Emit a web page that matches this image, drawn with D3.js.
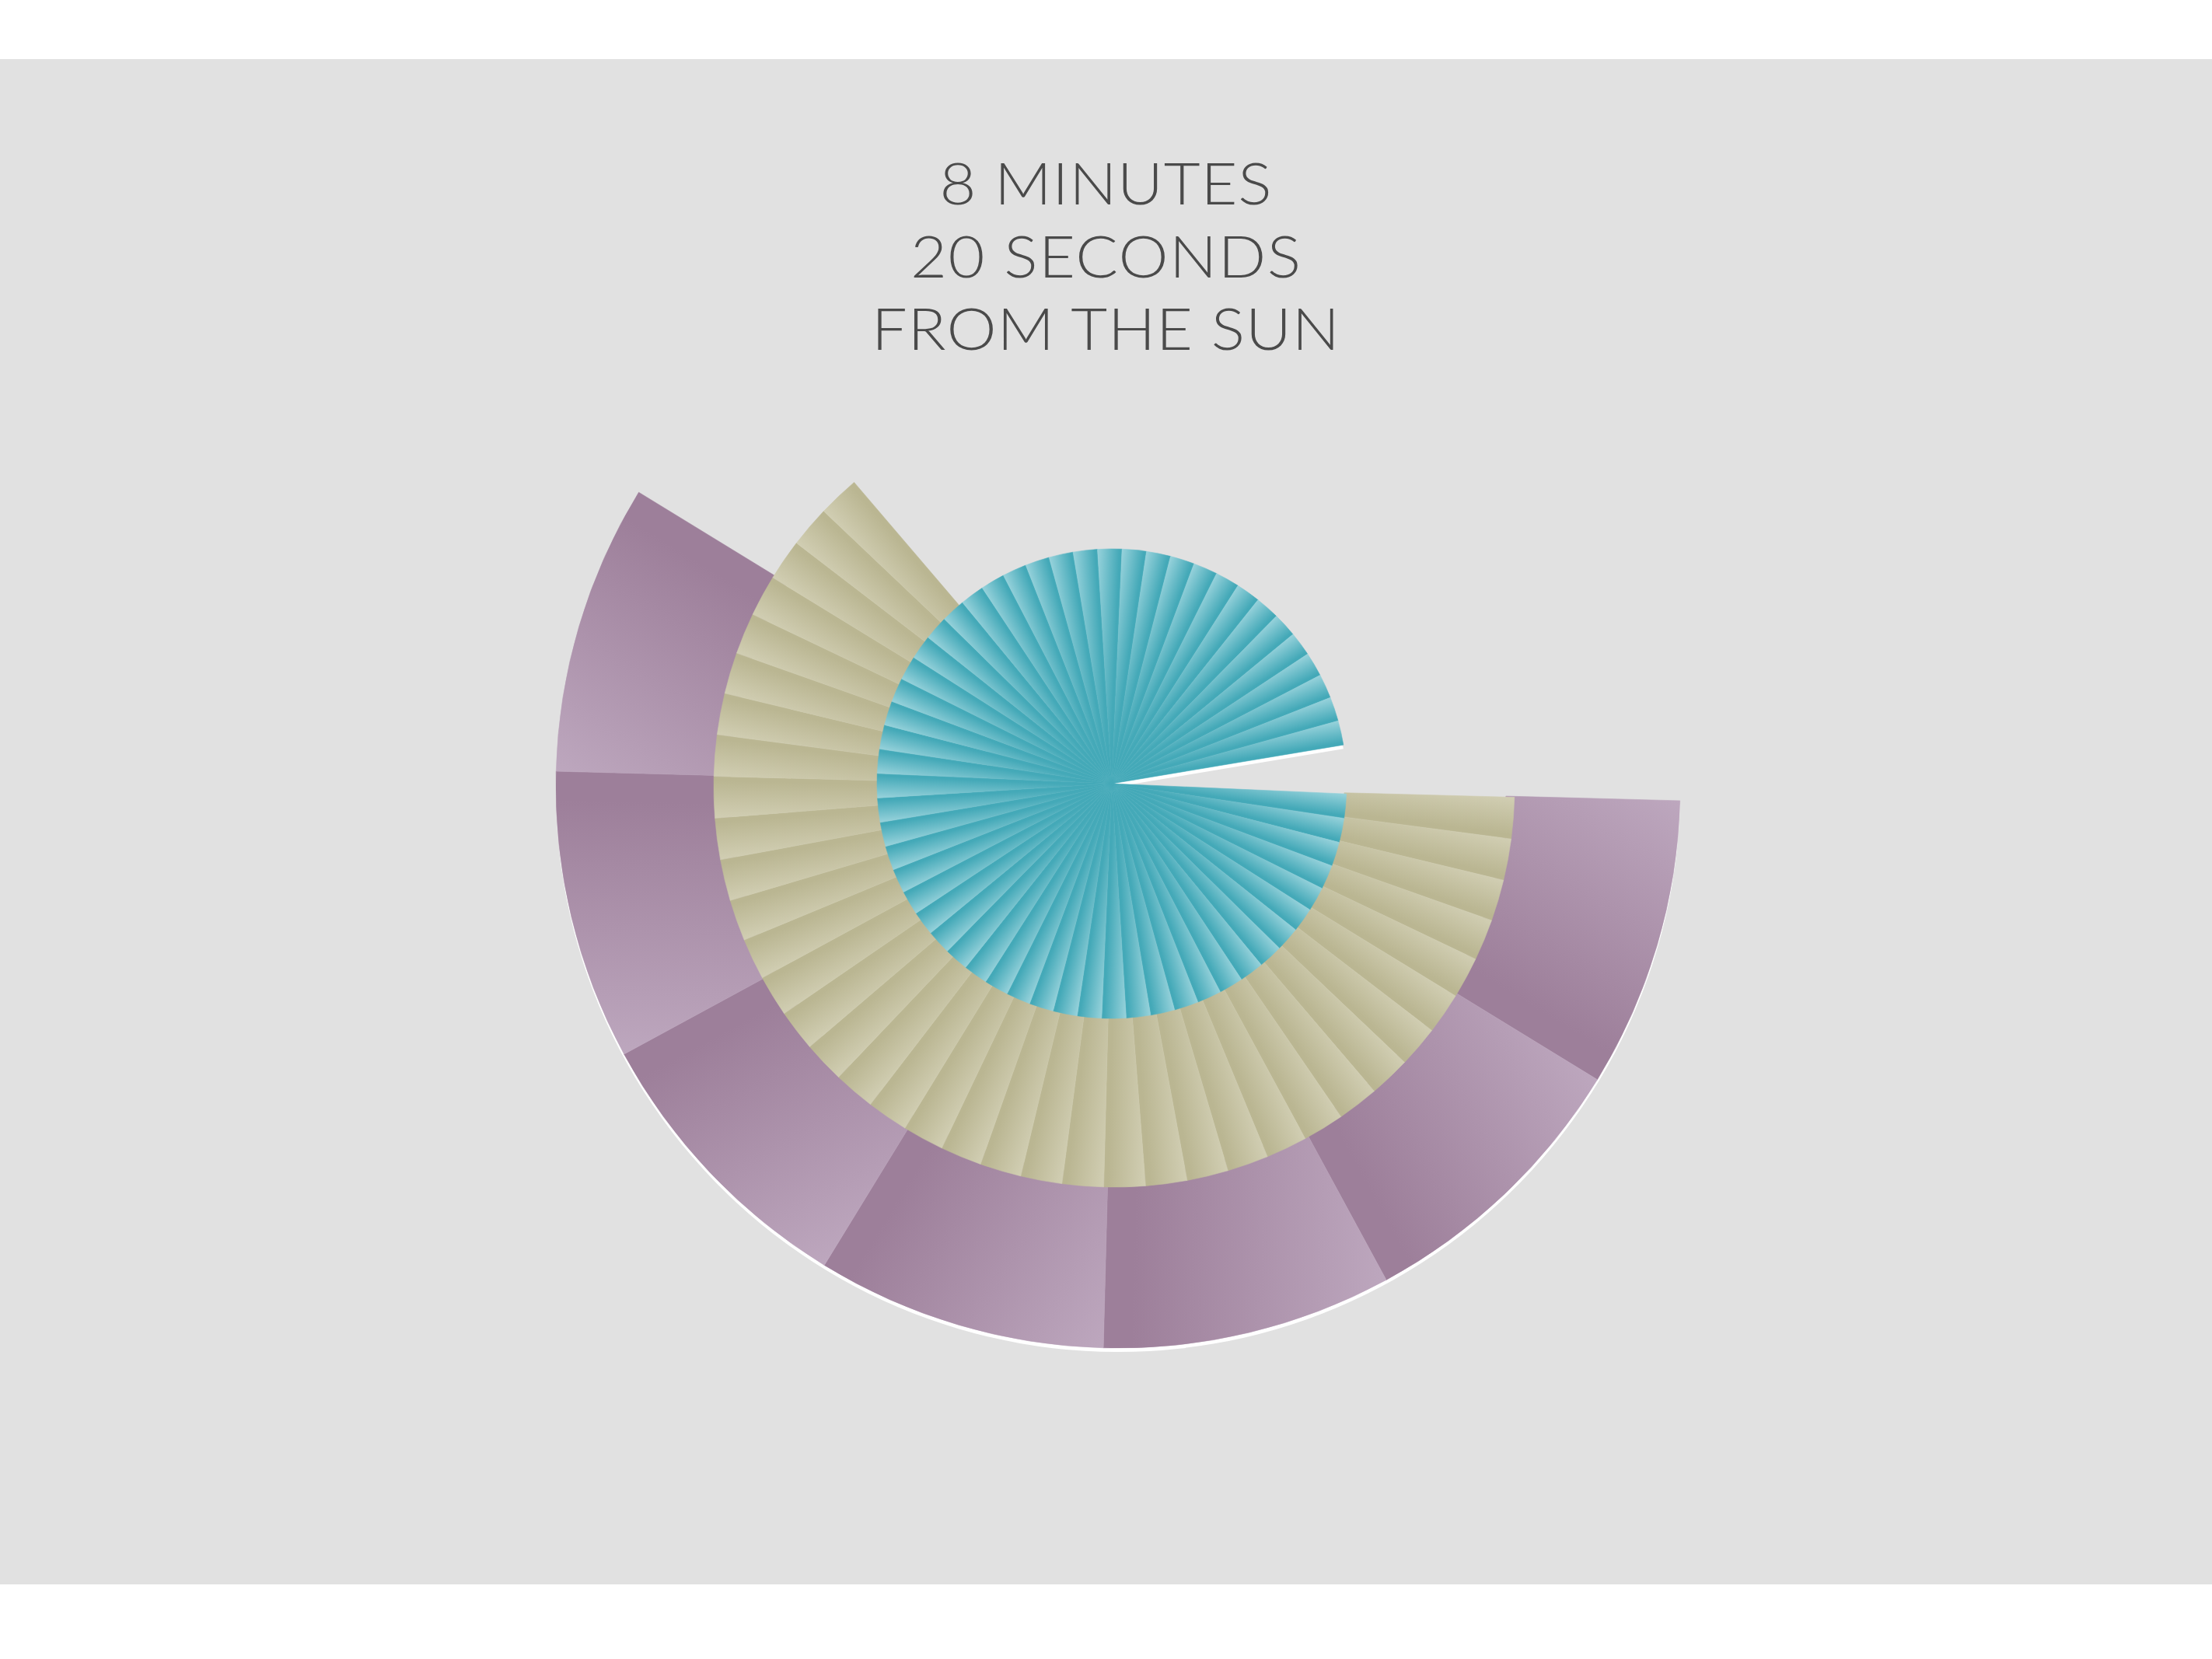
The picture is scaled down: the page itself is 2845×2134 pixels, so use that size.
<!DOCTYPE html>
<html><head><meta charset="utf-8">
<script src="https://cdn.jsdelivr.net/npm/d3@7"></script>
<style>html,body{margin:0;padding:0;background:#fff;} svg{display:block;}</style>
</head><body>
<svg id="chart" width="2845" height="2134"></svg>
<script>
// ---- data ----
const titleLines = ["8 MINUTES", "20 SECONDS", "FROM THE SUN"];
const ringNames = ["inner", "middle", "outer"];
const wedgeCounts = [58, 38, 7];          // number of wedges per ring
const wedgeSpans = [6, 6, 30];            // degrees per wedge
const ringStarts = [2.5, 1.5, 1.5];       // start angle (deg, clockwise from 3 o'clock)
const ringLevels = [[0, 1], [1, 2], [2, 3]];

// ---- layout / style ----
const W = 2845, H = 2134;
const ringCenters = [[1430, 1008], [1433, 1012], [1438, 1011]];
const innerInset = [0, 6, 16];            // inner edge tucked under the ring inside
const palette = [["#97d2db", "#44a9b8"], ["#d1ceb3", "#bab692"], ["#bda7be", "#9d7f9a"]];
const titleWidths = [427, 502, 602];
const titleBaselines = [263, 357, 450];
const stretch = 1.08;

const svg = d3.select("#chart");
svg.append("rect").attr("x", 0).attr("y", 76).attr("width", W).attr("height", 1962).attr("fill", "#e1e1e1");

svg.append("g").attr("transform", `translate(1422,0) scale(${stretch},1)`)
  .selectAll("text.title").data(titleLines).join("text")
  .attr("class", "title")
  .attr("x", 0).attr("y", (d, i) => titleBaselines[i])
  .attr("text-anchor", "middle")
  .attr("font-family", "Lato, 'Open Sans', sans-serif")
  .attr("font-weight", 300)
  .attr("font-size", 75)
  .attr("fill", "#4a4a4a")
  .attr("textLength", (d, i) => titleWidths[i] / stretch)
  .attr("lengthAdjust", "spacing")
  .text(d => d);

const rScale = d3.scaleLinear().domain([0, 1, 2, 3]).range([0, 302, 515, 723]);
const aScale = d3.scaleLinear().domain([0, 360]).range([Math.PI / 2, Math.PI / 2 + 2 * Math.PI]);
const rad = d => d * Math.PI / 180;

const defs = svg.append("defs");
const arc = d3.arc();

// wedge data
const wedges = [];
ringNames.forEach((name, i) => {
  for (let k = 0; k < wedgeCounts[i]; k++) {
    const a0 = ringStarts[i] + k * wedgeSpans[i];
    wedges.push({ ring: i, k, a0, a1: a0 + wedgeSpans[i] });
  }
});

const inner = i => Math.max(0, rScale(ringLevels[i][0]) - innerInset[i]);
const outer = i => rScale(ringLevels[i][1]);

// white offset shadows (behind everything)
const ringIdx = [2, 1, 0];
ringIdx.forEach(i => {
  svg.append("path")
    .attr("transform", `translate(${ringCenters[i][0]},${ringCenters[i][1] + 5})`)
    .attr("d", arc({
      innerRadius: inner(i), outerRadius: outer(i),
      startAngle: aScale(ringStarts[i]), endAngle: aScale(ringStarts[i] + wedgeCounts[i] * wedgeSpans[i])
    }))
    .attr("fill", "#ffffff");
});

// gradients
wedges.forEach(w => {
  const R = outer(w.ring);
  const ts = rad(w.a0), te = rad(w.a1);
  const px = R * Math.cos(ts), py = R * Math.sin(ts);
  const ux = Math.cos(te), uy = Math.sin(te);
  const dot = px * ux + py * uy;
  const qx = dot * ux, qy = dot * uy;
  const lg = defs.append("linearGradient")
    .attr("id", `gr-${w.ring}-${w.k}`)
    .attr("gradientUnits", "userSpaceOnUse")
    .attr("x1", px).attr("y1", py).attr("x2", qx).attr("y2", qy);
  lg.append("stop").attr("offset", 0).attr("stop-color", palette[w.ring][0]);
  lg.append("stop").attr("offset", 0.9).attr("stop-color", palette[w.ring][1]);
  lg.append("stop").attr("offset", 1).attr("stop-color", palette[w.ring][1]);
});

// wedges: outer rings first
ringIdx.forEach(i => {
  svg.append("g").attr("transform", `translate(${ringCenters[i][0]},${ringCenters[i][1]})`)
    .selectAll("path").data(wedges.filter(w => w.ring === i)).join("path")
    .attr("d", w => arc({
      innerRadius: inner(i), outerRadius: outer(i),
      startAngle: aScale(w.a0), endAngle: aScale(w.a1)
    }))
    .attr("fill", w => `url(#gr-${w.ring}-${w.k})`)
    .attr("stroke", w => `url(#gr-${w.ring}-${w.k})`)
    .attr("stroke-width", 0.6)
    .attr("stroke-linejoin", "round");
});
</script>
</body></html>
